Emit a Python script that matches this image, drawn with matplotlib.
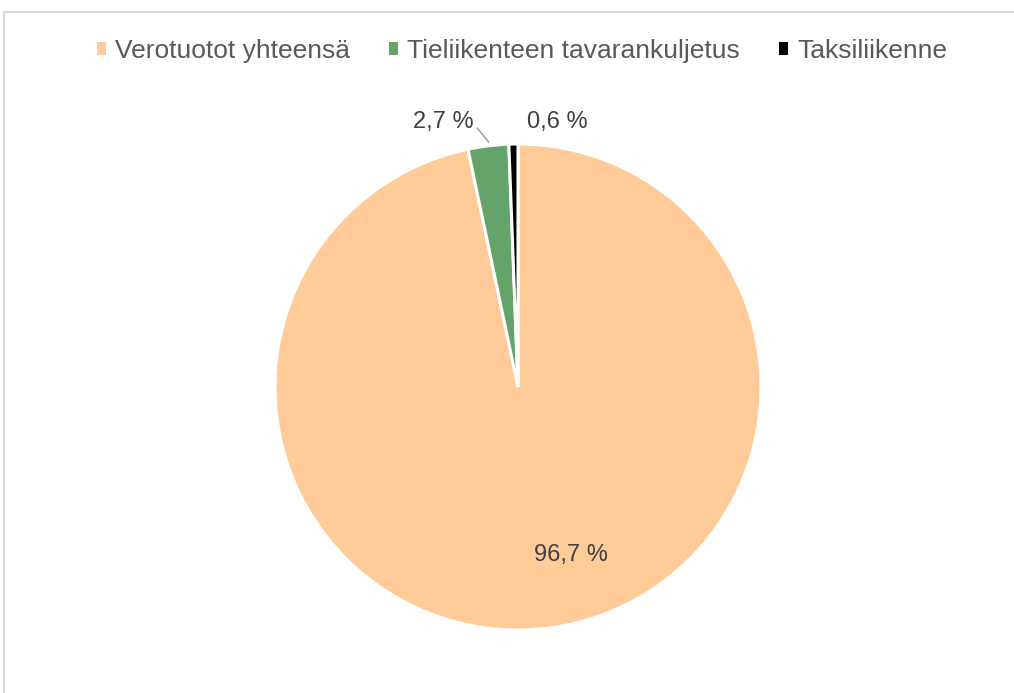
import matplotlib
matplotlib.use("Agg")
import matplotlib.pyplot as plt
from matplotlib.patches import Patch, Rectangle

categories = ["Verotuotot yhteensä", "Tieliikenteen tavarankuljetus", "Taksiliikenne"]
values = [96.7, 2.7, 0.6]
value_labels = ["96,7 %", "2,7 %", "0,6 %"]
colors = ["#FFCC99", "#65A468", "#000000"]

plt.rcParams['font.family'] = ['Liberation Sans', 'DejaVu Sans']

W, H = 1014, 693
fig = plt.figure(figsize=(W / 100, H / 100), dpi=100)
fig.patch.set_facecolor("white")

# outer frame (partly cropped at right/bottom)
fig.patches.append(Rectangle((4 / W, -0.1), 1.2, 1 - 12 / H + 0.1, transform=fig.transFigure,
                             fill=False, edgecolor="#D9D9D9", linewidth=1.5))

cx, cy, r = 518, 387, 243
ax = fig.add_axes([(cx - r) / W, (H - cy - r) / H, 2 * r / W, 2 * r / H])
wedges, _ = ax.pie(values, colors=colors, startangle=90, counterclock=False,
                   radius=1.0, wedgeprops=dict(edgecolor="white", linewidth=2.2))
ax.set_xlim(-1, 1)
ax.set_ylim(-1, 1)
ax.set_aspect("equal")
ax.axis("off")

lab_col = "#404040"
fs = 17
ax.text(0.218, -0.69, value_labels[0], ha="center", va="center", fontsize=fs, color=lab_col)
ax.text(-0.309, 1.09, value_labels[1], ha="center", va="center", fontsize=fs, color=lab_col,
        clip_on=False)
ax.text(0.16, 1.09, value_labels[2], ha="center", va="center", fontsize=fs, color=lab_col,
        clip_on=False)
ax.plot([-0.167, -0.121], [1.065, 1.008], color="#A6A6A6", lw=1.2, clip_on=False)

handles = [Patch(facecolor=c, edgecolor="none") for c in colors]
leg = fig.legend(handles, categories, loc="center", bbox_to_anchor=(522 / W, 1 - 51 / H),
                 ncol=3, frameon=False, fontsize=19, handlelength=0.36, handleheight=0.36,
                 handletextpad=0.35, columnspacing=1.45, borderpad=0, borderaxespad=0)
for t in leg.get_texts():
    t.set_color("#595959")

fig.savefig("out.png", dpi=100, facecolor="white")
